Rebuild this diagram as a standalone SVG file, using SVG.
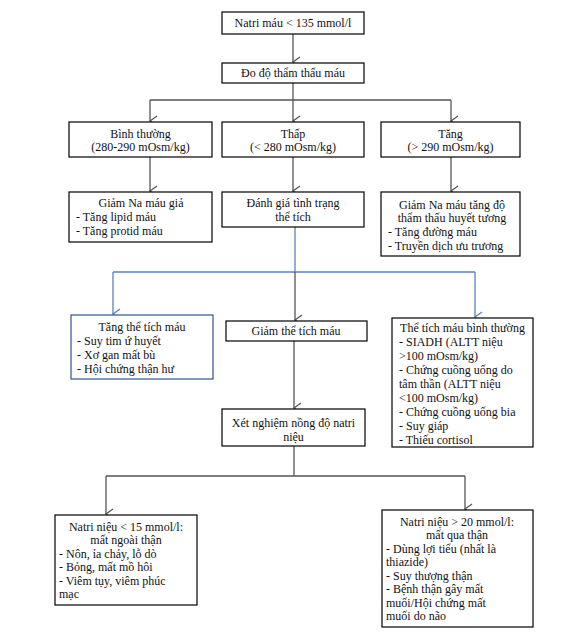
<svg xmlns="http://www.w3.org/2000/svg" width="585" height="639" viewBox="0 0 585 639">
<style>
.box{fill:#fff;stroke:#000;stroke-width:1.2}
.bbox{fill:#fff;stroke:#2e5597;stroke-width:1.2}
text{font-family:"Liberation Serif","Times New Roman",serif;font-size:12px;fill:#111}
.c{text-anchor:middle}
.g{fill:none;stroke:#555;stroke-width:1.3}
.b{fill:none;stroke:#5b82bd;stroke-width:1.3}
</style>
<defs>
<marker id="ag" markerWidth="12" markerHeight="12" refX="6" refY="10" orient="auto" markerUnits="userSpaceOnUse" viewBox="0 0 12 12">
<polyline points="1,3 6,10 11,3" fill="none" stroke="#555" stroke-width="1.3"/>
</marker>
<marker id="ab" markerWidth="12" markerHeight="12" refX="6" refY="10" orient="auto" markerUnits="userSpaceOnUse" viewBox="0 0 12 12">
<polyline points="1,3 6,10 11,3" fill="none" stroke="#5b82bd" stroke-width="1.3"/>
</marker>
</defs>
<rect width="585" height="639" fill="#fff"/>
<g id="connectors">
<line class="g" x1="293" y1="34" x2="293" y2="62" marker-end="url(#ag)"/>
<line class="g" x1="293" y1="83" x2="293" y2="100"/>
<line class="g" x1="150" y1="100" x2="451" y2="100"/>
<line class="g" x1="150" y1="100" x2="150" y2="121" marker-end="url(#ag)"/>
<line class="g" x1="293" y1="100" x2="293" y2="121" marker-end="url(#ag)"/>
<line class="g" x1="451" y1="100" x2="451" y2="121" marker-end="url(#ag)"/>
<line class="g" x1="150" y1="157" x2="150" y2="191" marker-end="url(#ag)"/>
<line class="g" x1="293" y1="157" x2="293" y2="191" marker-end="url(#ag)"/>
<line class="g" x1="451" y1="157" x2="451" y2="191" marker-end="url(#ag)"/>
<line class="b" x1="295" y1="227" x2="295" y2="272"/>
<line class="b" x1="113" y1="272" x2="475" y2="272"/>
<line class="b" x1="113" y1="272" x2="113" y2="314" marker-end="url(#ab)"/>
<line class="b" x1="475" y1="272" x2="475" y2="317" marker-end="url(#ab)"/>
<line class="g" x1="295" y1="272" x2="295" y2="320" marker-end="url(#ag)"/>
<line class="g" x1="294" y1="341" x2="294" y2="408" marker-end="url(#ag)"/>
<line class="g" x1="294" y1="446" x2="294" y2="476"/>
<line class="g" x1="106" y1="476" x2="465" y2="476"/>
<line class="g" x1="106" y1="476" x2="106" y2="514" marker-end="url(#ag)"/>
<line class="g" x1="465" y1="476" x2="465" y2="509" marker-end="url(#ag)"/>
</g>
<g id="n1">
<rect class="box" x="222" y="12" width="142" height="22"/>
<text class="c" x="293" y="27">Natri máu &lt; 135 mmol/l</text>
</g>
<g id="n2">
<rect class="box" x="222" y="63" width="142" height="20"/>
<text class="c" x="293" y="77">Đo độ thẩm thấu máu</text>
</g>
<g id="n3">
<rect class="box" x="69" y="122" width="143" height="35"/>
<text class="c" x="140.5" y="138">Bình thường</text>
<text class="c" x="140.5" y="151">(280-290 mOsm/kg)</text>
</g>
<g id="n4">
<rect class="box" x="222" y="122" width="142" height="35"/>
<text class="c" x="293" y="138">Thấp</text>
<text class="c" x="293" y="151">(&lt; 280 mOsm/kg)</text>
</g>
<g id="n5">
<rect class="box" x="381" y="122" width="139" height="35"/>
<text class="c" x="450.5" y="138">Tăng</text>
<text class="c" x="450.5" y="151">(&gt; 290 mOsm/kg)</text>
</g>
<g id="n6">
<rect class="box" x="69" y="192" width="143" height="50"/>
<text class="c" x="141" y="207">Giảm Na máu giả</text>
<text x="76" y="221">- Tăng lipid máu</text>
<text x="76" y="235">- Tăng protid máu</text>
</g>
<g id="n7">
<rect class="box" x="222" y="192" width="142" height="35"/>
<text class="c" x="293" y="207">Đánh giá tình trạng</text>
<text class="c" x="293" y="221">thể tích</text>
</g>
<g id="n8">
<rect class="box" x="381" y="192" width="139" height="64"/>
<text class="c" x="452" y="209">Giảm Na máu tăng độ</text>
<text class="c" x="452" y="222">thẩm thấu huyết tương</text>
<text x="388" y="236">- Tăng đường máu</text>
<text x="388" y="250">- Truyền dịch ưu trương</text>
</g>
<g id="n9">
<rect class="bbox" x="71" y="315" width="142" height="64"/>
<text class="c" x="142" y="331">Tăng thể tích máu</text>
<text x="77" y="345">- Suy tim ứ huyết</text>
<text x="77" y="359">- Xơ gan mất bù</text>
<text x="77" y="373">- Hội chứng thận hư</text>
</g>
<g id="n10">
<rect class="box" x="226" y="321" width="141" height="20"/>
<text class="c" x="296" y="335">Giảm thể tích máu</text>
</g>
<g id="n11">
<rect class="box" x="392" y="318" width="141" height="129"/>
<text class="c" x="462.5" y="332">Thể tích máu bình thường</text>
<text x="399" y="346">- SIADH (ALTT niệu</text>
<text x="399" y="360">&gt;100 mOsm/kg)</text>
<text x="399" y="374">- Chứng cuồng uống do</text>
<text x="399" y="388">tâm thần (ALTT niệu</text>
<text x="399" y="402">&lt;100 mOsm/kg)</text>
<text x="399" y="416">- Chứng cuồng uống bia</text>
<text x="399" y="430">- Suy giáp</text>
<text x="399" y="444">- Thiếu cortisol</text>
</g>
<g id="n12">
<rect class="box" x="222" y="409" width="143" height="37"/>
<text class="c" x="293.5" y="427">Xét nghiệm nồng độ natri</text>
<text class="c" x="293.5" y="441">niệu</text>
</g>
<g id="n13">
<rect class="box" x="55" y="515" width="142" height="90"/>
<text class="c" x="126" y="531">Natri niệu &lt; 15 mmol/l:</text>
<text class="c" x="126" y="544">mất ngoài thận</text>
<text x="59" y="558">- Nôn, ỉa chảy, lỗ dò</text>
<text x="59" y="571">- Bỏng, mất mồ hôi</text>
<text x="59" y="585">- Viêm tụy, viêm phúc</text>
<text x="59" y="598">mạc</text>
</g>
<g id="n14">
<rect class="box" x="382" y="510" width="151" height="117"/>
<text class="c" x="457" y="526">Natri niệu &gt; 20 mmol/l:</text>
<text class="c" x="457" y="539">mất qua thận</text>
<text x="386" y="553">- Dùng lợi tiểu (nhất là</text>
<text x="386" y="566">thiazide)</text>
<text x="386" y="580">- Suy thượng thận</text>
<text x="386" y="593">- Bệnh thận gây mất</text>
<text x="386" y="607">muối/Hội chứng mất</text>
<text x="386" y="620">muối do não</text>
</g>
</svg>
